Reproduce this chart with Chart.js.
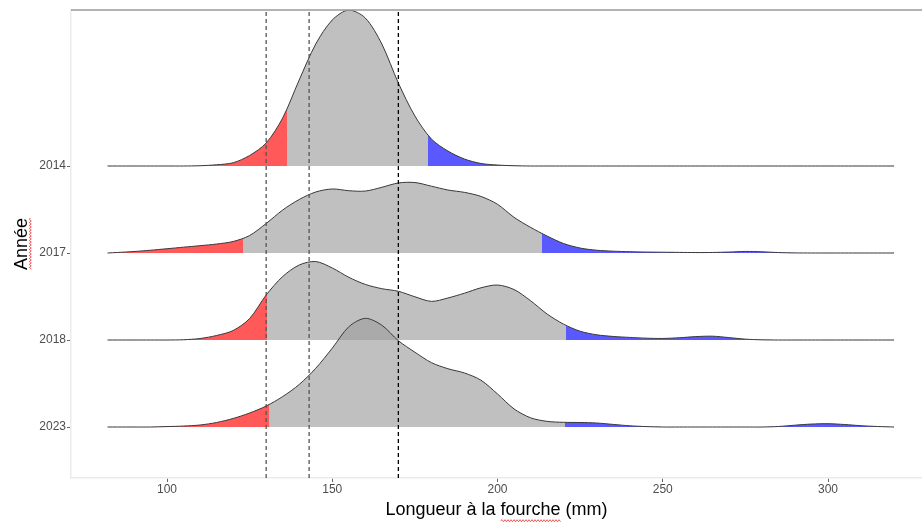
<!DOCTYPE html>
<html>
<head>
<meta charset="utf-8">
<script src="https://cdn.jsdelivr.net/npm/chart.js@4.4.1/dist/chart.umd.min.js"></script>
<style>
html,body{margin:0;padding:0;background:#fff;}
#wrap{width:922px;height:523px;position:relative;}
</style>
</head>
<body>
<div id="wrap"><canvas id="c" width="922" height="523"></canvas></div>
<script>
// ---- data ----
const YEARS = ['2014', '2017', '2018', '2023'];   // top to bottom
const LENGTHS = [82,85,90,95,100,105,110,115,120,125,130,135,140,145,150,155,160,165,170,175,180,185,190,195,200,205,210,215,220,225,230,235,240,245,250,255,260,265,270,275,280,285,290,295,300,305,310,315,320];
const D2014 = [0,0,0,0,0,0,0.003,0.014,0.037,0.121,0.264,0.552,0.989,1.402,1.678,1.793,1.701,1.402,0.954,0.575,0.310,0.172,0.080,0.029,0.011,0.003,0,0,0,0,0,0,0,0,0,0,0,0,0,0,0,0,0,0,0,0,0,0,0];
const D2017 = [0,0.006,0.017,0.032,0.049,0.067,0.084,0.103,0.132,0.201,0.339,0.494,0.615,0.701,0.736,0.716,0.712,0.755,0.805,0.810,0.768,0.724,0.697,0.650,0.560,0.410,0.295,0.195,0.109,0.057,0.032,0.021,0.015,0.011,0.009,0.007,0.005,0.006,0.011,0.018,0.014,0.005,0.001,0,0,0,0,0,0];
const D2018 = [0,0,0,0,0,0.003,0.017,0.052,0.109,0.247,0.517,0.730,0.862,0.902,0.828,0.721,0.639,0.590,0.560,0.497,0.444,0.483,0.538,0.600,0.632,0.580,0.452,0.299,0.182,0.101,0.060,0.041,0.030,0.021,0.018,0.026,0.039,0.044,0.028,0.010,0.002,0,0,0,0,0,0,0,0];
const D2023 = [0,0,0,0,0.005,0.011,0.023,0.052,0.098,0.161,0.241,0.350,0.489,0.675,0.906,1.152,1.249,1.170,0.992,0.860,0.740,0.670,0.621,0.538,0.380,0.208,0.106,0.065,0.054,0.052,0.046,0.030,0.014,0.005,0,0,0,0,0,0,0,0.006,0.021,0.034,0.038,0.029,0.015,0.006,0];
const LOW_CUT  = [136.2, 123.1, 130.4, 130.9];
const HIGH_CUT = [179.1, 213.4, 220.8, 220.4];
const VLINES = [130, 143, 170];
const X_TICKS = [100, 150, 200, 250, 300];
const X_TITLE = 'Longueur à la fourche (mm)';
const Y_TITLE = 'Année';

// ---- view ----
const X_MIN = 70.95, X_MAX = 328.44;
const Y_MIN = -0.586, Y_MAX = 4.793;
const RED = 'rgba(255,0,0,0.65)';
const GREY = 'rgba(158,158,158,0.65)';
const BLUE = 'rgba(0,0,255,0.65)';
const FONT = '"Liberation Sans", Arial, sans-serif';
const SERIES = [D2014, D2017, D2018, D2023];

function makeFill(chart, lo, hi) {
  const area = chart.chartArea, xs = chart.scales && chart.scales.x;
  if (!area || !xs) return GREY;
  const w = area.right - area.left;
  const f = v => Math.min(1, Math.max(0, (xs.getPixelForValue(v) - area.left) / w));
  const a = f(lo), b = f(hi);
  const g = chart.ctx.createLinearGradient(area.left, 0, area.right, 0);
  g.addColorStop(0, RED); g.addColorStop(a, RED);
  g.addColorStop(a, GREY); g.addColorStop(b, GREY);
  g.addColorStop(b, BLUE); g.addColorStop(1, BLUE);
  return g;
}

const datasets = [];
YEARS.forEach((yr, k) => {
  const base = YEARS.length - 1 - k;
  datasets.push({
    label: yr,
    data: LENGTHS.map((x, i) => ({ x: x, y: base + SERIES[k][i] })),
    borderColor: '#383838',
    borderWidth: 1,
    pointRadius: 0,
    tension: 0.3,
    fill: { value: base },
    backgroundColor: (ctx) => makeFill(ctx.chart, LOW_CUT[k], HIGH_CUT[k]),
    order: 1 + base
  });
});
VLINES.forEach((v, i) => {
  datasets.push({
    label: 'v' + v,
    data: [{ x: v, y: Y_MIN }, { x: v, y: Y_MAX }],
    borderColor: i === VLINES.length - 1 ? '#000' : '#555',
    borderWidth: 1.3,
    borderDash: [4, 3],
    pointRadius: 0,
    fill: false,
    order: 0
  });
});

function wavyH(ctx, x0, x1, y) {
  ctx.beginPath();
  let up = true;
  ctx.moveTo(x0, y);
  for (let x = x0 + 1.5; x <= x1; x += 1.5) { ctx.lineTo(x, y + (up ? -1 : 1)); up = !up; }
  ctx.stroke();
}
function wavyV(ctx, y0, y1, x) {
  ctx.beginPath();
  let up = true;
  ctx.moveTo(x, y0);
  for (let y = y0 + 1.5; y <= y1; y += 1.5) { ctx.lineTo(x + (up ? -1 : 1), y); up = !up; }
  ctx.stroke();
}

const framePlugin = {
  id: 'frame',
  afterDraw(chart) {
    const { ctx, chartArea: a } = chart;
    ctx.save();
    ctx.strokeStyle = '#9a9a9a';
    ctx.lineWidth = 1.5;
    ctx.beginPath(); ctx.moveTo(a.left, a.top); ctx.lineTo(a.right, a.top); ctx.stroke();
    // spell-check style underlines under the titles
    ctx.font = '18px ' + FONT;
    ctx.strokeStyle = 'rgba(235,40,40,0.85)';
    ctx.lineWidth = 0.9;
    const xs = chart.scales.x, ys = chart.scales.y;
    const full = ctx.measureText(X_TITLE).width;
    const pre = ctx.measureText('Longueur à la ').width;
    const word = ctx.measureText('fourche').width;
    const cx = (xs.left + xs.right) / 2;
    const tyc = xs.bottom - 2 - 10.8;
    const sx = cx - full / 2 + pre;
    wavyH(ctx, sx, sx + word, tyc + 10.5);
    const yw = ctx.measureText(Y_TITLE).width;
    const cy = (ys.top + ys.bottom) / 2;
    const txc = ys.left + 11 + 10.8;
    wavyV(ctx, cy - yw / 2, cy + yw / 2, txc + 8.5);
    ctx.restore();
  }
};

new Chart(document.getElementById('c'), {
  type: 'line',
  data: { datasets: datasets },
  plugins: [framePlugin],
  options: {
    responsive: false,
    devicePixelRatio: 1,
    animation: false,
    events: [],
    layout: { padding: { top: 10, right: 0, bottom: 0, left: 0 } },
    plugins: { legend: { display: false }, tooltip: { enabled: false }, title: { display: false } },
    scales: {
      x: {
        type: 'linear',
        min: X_MIN, max: X_MAX,
        afterBuildTicks: (s) => { s.ticks = X_TICKS.map(v => ({ value: v })); },
        afterFit: (s) => { s.height = 45; },
        ticks: { color: '#4d4d4d', font: { family: FONT, size: 12 }, padding: 0, autoSkip: false, maxRotation: 0 },
        grid: { drawOnChartArea: false, drawTicks: true, tickLength: 4, tickColor: '#666', color: '#666' },
        border: { display: true, color: '#ebebeb', width: 1.5 },
        title: { display: true, text: X_TITLE, color: '#000', font: { family: FONT, size: 18 }, padding: { top: 0, bottom: 2 } }
      },
      y: {
        type: 'linear',
        min: Y_MIN, max: Y_MAX,
        afterBuildTicks: (s) => { s.ticks = YEARS.map((_, i) => ({ value: i })); },
        afterFit: (s) => { s.width = 71; },
        ticks: {
          color: '#4d4d4d', font: { family: FONT, size: 12 }, padding: 1,
          callback: (v) => YEARS[YEARS.length - 1 - v]
        },
        grid: { drawOnChartArea: false, drawTicks: true, tickLength: 4, tickColor: '#666', color: '#666' },
        border: { display: true, color: '#ebebeb', width: 1.5 },
        title: { display: true, text: Y_TITLE, color: '#000', font: { family: FONT, size: 18 }, padding: { top: 11, bottom: 0 } }
      }
    }
  }
});
</script>
</body>
</html>
